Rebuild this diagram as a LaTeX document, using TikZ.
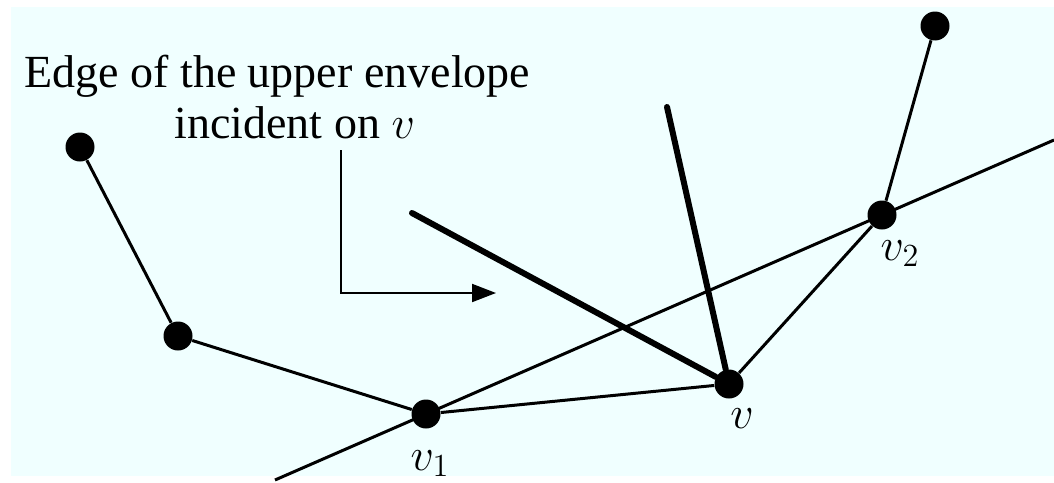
\RequirePackage{fix-cm}
\documentclass[tikz,border=0pt]{standalone}
\usepackage[no-math]{fontspec}
\setmainfont{Liberation Serif}
\usetikzlibrary{arrows.meta}
\definecolor{bgc}{RGB}{240,255,255}
\begin{document}
\begin{tikzpicture}[x=0.5pt,y=-0.5pt,
  dot/.style={circle,fill=black,inner sep=0pt,minimum size=14.5pt},
  thinedge/.style={line width=1.5pt},
  thickedge/.style={line width=3pt,line cap=round},
  lbl/.style={font=\fontsize{23}{28}\selectfont,anchor=base,inner sep=0pt},
  txt/.style={font=\fontsize{23}{28}\selectfont,anchor=base west,inner sep=0pt}]
\useasboundingbox (0,0) rectangle (1054,482);
\fill[bgc] (11,7) rectangle (1054,476);
% vertices
\node[dot] (p1) at (80,147) {};
\node[dot] (p2) at (178,336) {};
\node[dot] (v1) at (426,414) {};
\node[dot] (v)  at (729,384) {};
\node[dot] (v2) at (882,215) {};
\node[dot] (p3) at (935,26) {};
% free ends
\coordinate (L1) at (275,480);
\coordinate (L2) at (1054,140);
\coordinate (e1) at (412,213);
\coordinate (e2) at (667,107);
\coordinate (a0) at (341,150);
\coordinate (a2) at (496,293);
% edges
\draw[thinedge] (p1) -- (p2);
\draw[thinedge] (p2) -- (v1);
\draw[thinedge] (v1) -- (v);
\draw[thinedge] (v) -- (v2);
\draw[thinedge] (v2) -- (p3);
\draw[thinedge] (L1) -- (L2);
\draw[thickedge] (e1) -- (v);
\draw[thickedge] (e2) -- (v);
\draw[line width=1pt,-{Triangle[length=12pt,width=9pt]}] (a0) |- (a2);
% labels
\node[lbl] (lv1) at (430,470) {$v_1$};
\node[lbl] (lv)  at (742,428) {$v$};
\node[lbl] (lv2) at (900,260) {$v_2$};
\node[txt] (t1) at (24,87) {Edge of the upper envelope};
\node[txt] (t2) at (174,138) {incident on $v$};
\end{tikzpicture}
\end{document}
